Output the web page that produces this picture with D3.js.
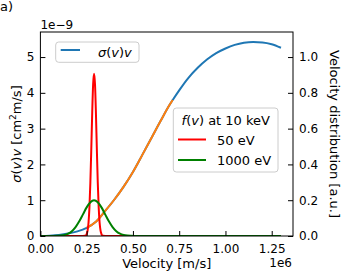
<!DOCTYPE html>
<html>
<head>
<meta charset="utf-8">
<script src="https://cdn.jsdelivr.net/npm/d3@7"></script>
<style>
  body { margin: 0; background: #fff; }
  text { font-family: "DejaVu Sans", sans-serif; fill: #000; }
</style>
</head>
<body>
<script>
// sigma(v)v curve, v in 1e6 m/s, values in 1e-9 cm^2 m/s
var velocity = [0, 0.05, 0.1, 0.15, 0.2, 0.25, 0.3, 0.35, 0.4, 0.45, 0.5, 0.55, 0.6, 0.65, 0.7, 0.715,
                0.75, 0.8, 0.85, 0.9, 0.95, 1.0, 1.05, 1.1, 1.15, 1.2, 1.25, 1.3];
var sigmaV = [0, 0.01, 0.03, 0.07, 0.13, 0.23, 0.40, 0.70, 1.02, 1.38, 1.79, 2.26, 2.74, 3.22, 3.68, 3.80,
              4.07, 4.42, 4.70, 4.93, 5.11, 5.24, 5.34, 5.40, 5.42, 5.41, 5.36, 5.26];
var highlightRange = [0.25, 0.715];

// velocity distributions f(v) at 10 keV (right axis, a.u.)
var red50v = [0, 0.23, 0.24, 0.245, 0.25, 0.255, 0.26, 0.265, 0.27, 0.275, 0.28, 0.285, 0.29,
              0.295, 0.3, 0.305, 0.31, 0.315, 0.32, 0.325, 0.33, 0.335, 0.34, 0.35, 1.3];
var red50f = [0, 0, 0.001, 0.003, 0.011, 0.030, 0.074, 0.160, 0.299, 0.486, 0.689, 0.849, 0.907,
              0.849, 0.689, 0.486, 0.299, 0.160, 0.074, 0.030, 0.011, 0.003, 0.001, 0, 0];
var green1000v = [0, 0.05, 0.07, 0.09, 0.11, 0.13, 0.15, 0.17, 0.19, 0.21, 0.23, 0.25, 0.27, 0.29,
                  0.31, 0.33, 0.35, 0.37, 0.39, 0.41, 0.43, 0.45, 0.47, 0.49, 0.51, 0.53, 1.3];
var green1000f = [0, 0, 0.0002, 0.0008, 0.0022, 0.0057, 0.013, 0.027, 0.050, 0.082, 0.121, 0.160, 0.189, 0.2,
                  0.189, 0.160, 0.121, 0.082, 0.050, 0.027, 0.013, 0.0057, 0.0022, 0.0008, 0.0002, 0, 0];

var xTicks = [0, 0.25, 0.5, 0.75, 1.0, 1.25];
var yLeftTicks = [0, 1, 2, 3, 4, 5];
var yRightTicks = [0, 0.2, 0.4, 0.6, 0.8, 1.0];

var W = 341, H = 271;
var pL = 40.4, pR = 293, pT = 32, pB = 236;

var svg = d3.select("body").append("svg")
    .attr("width", W).attr("height", H);

var x = d3.scaleLinear().domain([0, 1.365]).range([pL, pR]);
var yL = d3.scaleLinear().domain([0, 5.70]).range([pB, pT]);
var yR = d3.scaleLinear().domain([0, 1.14]).range([pB, pT]);

svg.append("clipPath").attr("id", "plot")
  .append("rect").attr("x", pL).attr("y", pT)
  .attr("width", pR - pL).attr("height", pB - pT);

var plot = svg.append("g").attr("clip-path", "url(#plot)");

var curveL = d3.line()
    .x(function(d) { return x(d[0]); })
    .y(function(d) { return yL(d[1]); })
    .curve(d3.curveMonotoneX);
var curveR = d3.line()
    .x(function(d) { return x(d[0]); })
    .y(function(d) { return yR(d[1]); })
    .curve(d3.curveMonotoneX);

var sv = d3.zip(velocity, sigmaV);
plot.append("path").datum(sv)
    .attr("d", curveL).attr("fill", "none")
    .attr("stroke", "#1f77b4").attr("stroke-width", 2);
plot.append("path")
    .datum(sv.filter(function(d) { return d[0] >= highlightRange[0] && d[0] <= highlightRange[1]; }))
    .attr("d", curveL).attr("fill", "none")
    .attr("stroke", "#ff7f0e").attr("stroke-width", 2);

plot.append("path").datum(d3.zip(red50v, red50f))
    .attr("d", curveR).attr("fill", "none")
    .attr("stroke", "#ff0000").attr("stroke-width", 2);
plot.append("path").datum(d3.zip(green1000v, green1000f))
    .attr("d", curveR).attr("fill", "none")
    .attr("stroke", "#008000").attr("stroke-width", 2);

// axes (ticks pointing inward)
var xAxis = d3.axisBottom(x).tickValues(xTicks).tickFormat(d3.format(".2f"))
    .tickSizeInner(-5).tickSizeOuter(0).tickPadding(8);
var yAxisL = d3.axisLeft(yL).tickValues(yLeftTicks).tickFormat(d3.format("d"))
    .tickSizeInner(-5).tickSizeOuter(0).tickPadding(6);
var yAxisR = d3.axisRight(yR).tickValues(yRightTicks).tickFormat(d3.format(".1f"))
    .tickSizeInner(-5).tickSizeOuter(0).tickPadding(6);

var gx = svg.append("g").attr("transform", "translate(0," + pB + ")").call(xAxis);
var gyl = svg.append("g").attr("transform", "translate(" + pL + ",0)").call(yAxisL);
var gyr = svg.append("g").attr("transform", "translate(" + pR + ",0)").call(yAxisR);

[gx, gyl, gyr].forEach(function(g) {
  g.select(".domain").remove();
  g.selectAll(".tick line").attr("stroke", "#000").attr("stroke-width", 1);
  g.selectAll(".tick text").attr("font-size", 12).attr("font-family", "DejaVu Sans").attr("fill", "#000");
});
gx.selectAll(".tick text").attr("dy", "0.71em");

svg.append("rect")
    .attr("x", pL).attr("y", pT)
    .attr("width", pR - pL).attr("height", pB - pT)
    .attr("fill", "none").attr("stroke", "#000").attr("stroke-width", 1);

// offset texts
svg.append("text").attr("x", pL).attr("y", 29).attr("font-size", 12).text("1e\u22129");
svg.append("text").attr("x", 292).attr("y", 267).attr("font-size", 12)
    .attr("text-anchor", "end").text("1e6");
svg.append("text").attr("x", 0).attr("y", 10.5).attr("font-size", 13).text("a)");

// axis labels
svg.append("text").attr("x", (pL + pR) / 2).attr("y", 267.5)
    .attr("font-size", 13).attr("text-anchor", "middle").text("Velocity [m/s]");

var yl = svg.append("text")
    .attr("transform", "translate(21," + ((pT + pB) / 2) + ") rotate(-90)")
    .attr("font-size", 13).attr("text-anchor", "middle");
yl.append("tspan").attr("font-style", "italic").text("\u03c3");
yl.append("tspan").text("(");
yl.append("tspan").attr("font-style", "italic").text("v");
yl.append("tspan").text(")");
yl.append("tspan").attr("font-style", "italic").text("v");
yl.append("tspan").text(" [cm");
yl.append("tspan").attr("font-size", 9).attr("dy", -5).text("2");
yl.append("tspan").attr("dy", 5).text("m/s]");

svg.append("text")
    .attr("transform", "translate(330," + ((pT + pB) / 2) + ") rotate(90)")
    .attr("font-size", 13).attr("text-anchor", "middle").text("Velocity distribution [a.u.]");

// legend 1
var lg1 = svg.append("g");
lg1.append("rect").attr("x", 55.7).attr("y", 42).attr("width", 83.3).attr("height", 20.3)
    .attr("rx", 3).attr("fill", "#fff").attr("fill-opacity", 0.8)
    .attr("stroke", "#cccccc").attr("stroke-width", 1);
lg1.append("line").attr("x1", 60.7).attr("x2", 80).attr("y1", 50).attr("y2", 50)
    .attr("stroke", "#1f77b4").attr("stroke-width", 2);
var t1 = lg1.append("text").attr("x", 98).attr("y", 57).attr("font-size", 13);
t1.append("tspan").attr("font-style", "italic").text("\u03c3");
t1.append("tspan").text("(");
t1.append("tspan").attr("font-style", "italic").text("v");
t1.append("tspan").text(")");
t1.append("tspan").attr("font-style", "italic").text("v");

// legend 2
var lg2 = svg.append("g");
lg2.append("rect").attr("x", 173.3).attr("y", 108).attr("width", 104.7).attr("height", 64)
    .attr("rx", 3).attr("fill", "#fff").attr("fill-opacity", 0.8)
    .attr("stroke", "#cccccc").attr("stroke-width", 1);
var t2 = lg2.append("text").attr("x", 225.8).attr("y", 125).attr("font-size", 13)
    .attr("text-anchor", "middle");
t2.append("tspan").attr("font-style", "italic").text("f");
t2.append("tspan").text("(");
t2.append("tspan").attr("font-style", "italic").text("v");
t2.append("tspan").text(") at 10 keV");
var legendItems = [["50 eV", "#ff0000", 139.5], ["1000 eV", "#008000", 160]];
legendItems.forEach(function(it) {
  lg2.append("line").attr("x1", 178).attr("x2", 206).attr("y1", it[2]).attr("y2", it[2])
      .attr("stroke", it[1]).attr("stroke-width", 2);
  lg2.append("text").attr("x", 217).attr("y", it[2] + 5).attr("font-size", 13).text(it[0]);
});
</script>
</body>
</html>
